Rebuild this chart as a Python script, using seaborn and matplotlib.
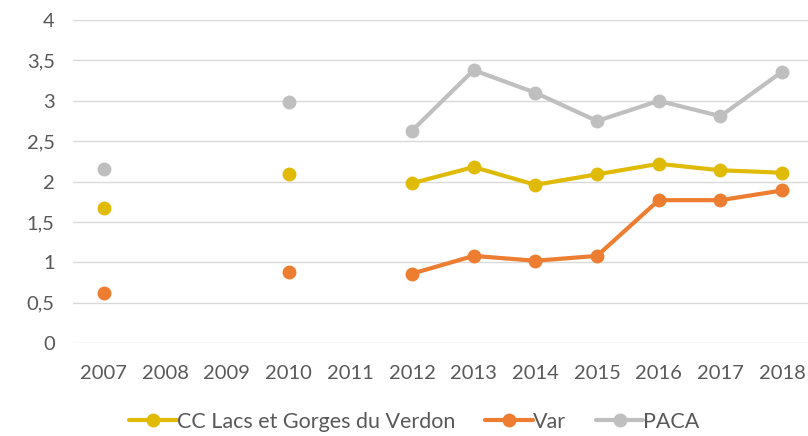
import numpy as np
import pandas as pd
import seaborn as sns
import matplotlib.pyplot as plt
from matplotlib.lines import Line2D

years = ['2007', '2008', '2009', '2010', '2011', '2012', '2013', '2014', '2015', '2016', '2017', '2018']
cc_verdon = [1.67, np.nan, np.nan, 2.10, np.nan, 1.98, 2.18, 1.96, 2.09, 2.22, 2.14, 2.11]
var = [0.62, np.nan, np.nan, 0.88, np.nan, 0.86, 1.08, 1.02, 1.08, 1.77, 1.77, 1.89]
paca = [2.15, np.nan, np.nan, 2.98, np.nan, 2.63, 3.38, 3.10, 2.75, 3.00, 2.81, 3.36]

series_names = ['CC Lacs et Gorges du Verdon', 'Var', 'PACA']
colors = ['#DFBA07', '#ED7D31', '#BFBFBF']

sns.set_theme(style='white')
plt.rcParams['font.family'] = ['Lato', 'DejaVu Sans']

fig = plt.figure(figsize=(8.08, 4.36), dpi=100)
ax = fig.add_axes([0.09, 0.213, 0.91, 0.741])

for name, vals, col in zip(series_names, [cc_verdon, var, paca], colors):
    df = pd.DataFrame({'pos': np.arange(len(years)), 'val': vals})
    df['seg'] = df['val'].isna().cumsum()
    df = df.dropna()
    sns.lineplot(data=df, x='pos', y='val', units='seg', estimator=None,
                 color=col, linewidth=3, marker='o', markersize=10,
                 markeredgewidth=0, ax=ax, legend=False, zorder=3)

ax.set_ylim(0, 4)
ax.set_xlim(-0.5, 11.42)
ax.set_yticks(np.arange(0, 4.01, 0.5))
ax.set_yticklabels([('%g' % v).replace('.', ',') for v in np.arange(0, 4.01, 0.5)])
ax.set_xticks(range(len(years)))
ax.set_xticklabels(years)
ax.set_xlabel('')
ax.set_ylabel('')
ax.grid(axis='y', color='#D9D9D9', linewidth=1)
ax.set_axisbelow(True)
for s in ax.spines.values():
    s.set_visible(False)
ax.tick_params(axis='both', length=0, labelsize=14.5, labelcolor='#595959')
ax.tick_params(axis='y', pad=13)
ax.tick_params(axis='x', pad=16)

handles = [Line2D([0], [0], color=c, linewidth=3, marker='o', markersize=10,
                  markeredgewidth=0) for c in colors]
fig.legend(handles, series_names, loc='lower center', ncol=3, frameon=False,
           fontsize=15.5, labelcolor='#595959', handlelength=2.2, handletextpad=0.0,
           columnspacing=1.4, bbox_to_anchor=(0.513, -0.035))

fig.savefig('out.png', dpi=100)
